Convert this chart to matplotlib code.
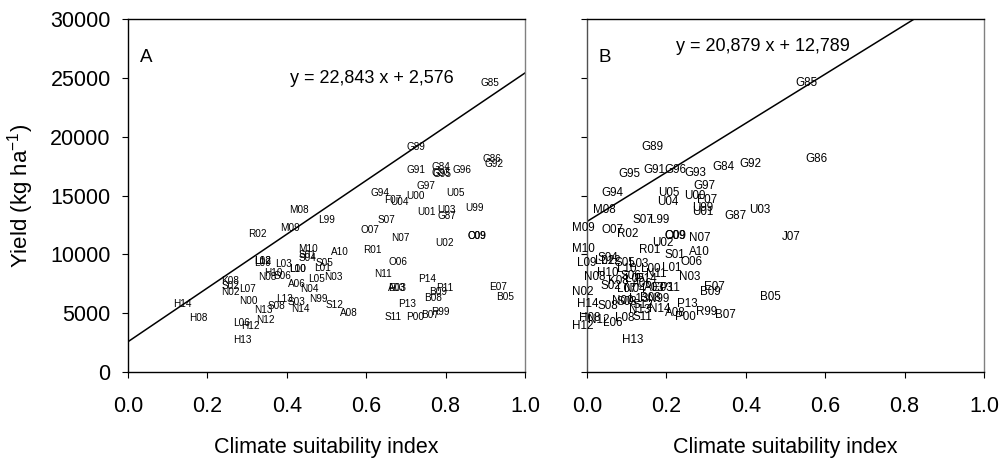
import numpy as np
import matplotlib
matplotlib.use('Agg')
import matplotlib.pyplot as plt

plt.rcParams['font.family'] = ['Liberation Sans', 'DejaVu Sans']
plt.rcParams['mathtext.fontset'] = 'custom'
plt.rcParams['mathtext.rm'] = 'Liberation Sans'
plt.rcParams['mathtext.default'] = 'regular'

# site codes, yield (kg/ha), climate suitability index in panel A and B
sites = ['G85', 'G89', 'G86', 'G92', 'G84', 'G91', 'G96', 'G93', 'G95', 'G97',
         'G94', 'U05', 'U00', 'F07', 'U04', 'U99', 'U03', 'U01', 'G87', 'M08',
         'L99', 'S07', 'M09', 'O07', 'R02', 'C09', 'O09', 'N07', 'J07', 'U02',
         'R01', 'A10', 'M10', 'S04', 'S01', 'O06', 'S05', 'L02', 'L12', 'L09',
         'L03', 'L01', 'L00', 'L10', 'H10', 'N08', 'S06', 'N11', 'L05', 'N03',
         'P14', 'A06', 'K08', 'S02', 'N02', 'L07', 'E07', 'A03', 'E03', 'P11',
         'B09', 'N04', 'B05', 'B08', 'N00', 'L13', 'N99', 'S03', 'P13', 'H14',
         'S12', 'S08', 'N14', 'N13', 'A08', 'R99', 'B07', 'S11', 'P00', 'H08',
         'L08', 'L06', 'H12', 'N12', 'H13']
yields = [24600, 19125, 18100, 17720, 17425, 17170, 17200, 16950, 16850, 15850,
          15210, 15250, 15000, 14660, 14450, 13980, 13770, 13600, 13300, 13730,
          12920, 12880, 12240, 12110, 11730, 11600, 11560, 11390, 11475, 10965,
          10410, 10200, 10450, 9730, 9945, 9310, 9265, 9435, 9435, 9265,
          9180, 8840, 8755, 8755, 8415, 8100, 8160, 8330, 7905, 8100,
          7905, 7480, 7735, 7310, 6800, 7055, 7225, 7140, 7140, 7140,
          6800, 7055, 6375, 6290, 6035, 6205, 6205, 5950, 5780, 5780,
          5695, 5610, 5355, 5270, 5015, 5100, 4845, 4675, 4675, 4590,
          4590, 4165, 3900, 4420, 2760]
csi_a = [0.912, 0.725, 0.917, 0.922, 0.788, 0.725, 0.841, 0.788, 0.790, 0.751,
         0.635, 0.824, 0.723, 0.668, 0.685, 0.872, 0.801, 0.751, 0.804, 0.431,
         0.499, 0.650, 0.408, 0.610, 0.327, 0.879, 0.879, 0.685, np.nan, 0.796,
         0.615, 0.534, 0.453, 0.451, 0.453, 0.680, 0.494, 0.338, 0.338, 0.338,
         0.393, 0.491, 0.428, 0.428, 0.365, 0.350, 0.388, 0.642, 0.476, 0.516,
         0.753, 0.425, 0.257, 0.257, 0.257, 0.302, 0.932, 0.678, 0.678, 0.798,
         0.781, 0.458, 0.950, 0.769, 0.302, 0.395, 0.479, 0.425, 0.703, 0.136,
         0.521, 0.375, 0.433, 0.340, 0.557, 0.786, 0.761, 0.667, 0.723, 0.176,
         np.nan, 0.287, 0.307, 0.345, 0.287]
csi_b = [0.554, 0.164, 0.577, 0.413, 0.345, 0.171, 0.222, 0.272, 0.106, 0.295,
         0.063, 0.207, 0.272, 0.302, 0.204, 0.292, 0.436, 0.292, 0.373, 0.043,
         0.184, 0.141, -0.010, 0.065, 0.103, 0.222, 0.222, 0.285, 0.514, 0.191,
         0.159, 0.282, -0.010, 0.053, 0.222, 0.264, 0.096, 0.045, 0.060, 0.000,
         0.130, 0.214, 0.160, 0.100, 0.053, 0.020, 0.110, 0.176, 0.120, 0.259,
         0.150, 0.140, 0.080, 0.060, -0.010, 0.100, 0.322, 0.170, 0.190, 0.210,
         0.310, 0.120, 0.463, 0.160, 0.090, 0.130, 0.180, 0.100, 0.254, 0.003,
         0.140, 0.053, 0.184, 0.134, 0.222, 0.302, 0.348, 0.141, 0.247, 0.008,
         0.096, 0.065, -0.010, 0.030, 0.116]

# linear fits
slope_a, icpt_a = 22843, 2576
slope_b, icpt_b = 20879, 12789

fig = plt.figure(figsize=(10.05, 4.65), dpi=100)
ax1 = fig.add_axes([0.1274, 0.2, 0.395, 0.759])
ax2 = fig.add_axes([0.584, 0.2, 0.395, 0.759])


def draw_panel(ax, csi, slope, icpt, letter, eq_xy, lab_size, show_ylabels):
    for name, xv, yv in zip(sites, csi, yields):
        if np.isnan(xv):
            continue
        ax.text(xv, yv, name, fontsize=lab_size, ha='center', va='center',
                clip_on=False)
    xx = np.array([0, 1])
    ax.plot(xx, slope * xx + icpt, color='black', lw=1.1)
    ax.set_xlim(0, 1)
    ax.set_ylim(0, 30000)
    ax.set_xticks(np.arange(0, 1.01, 0.2))
    ax.set_xticklabels(['0.0', '0.2', '0.4', '0.6', '0.8', '1.0'])
    ax.set_yticks(np.arange(0, 30001, 5000))
    ax.tick_params(axis='x', direction='out', length=4, pad=13, labelsize=15.5)
    ax.tick_params(axis='y', direction='out', length=4, pad=8.5, labelsize=15.5,
                   labelleft=show_ylabels)
    ax.set_xlabel('Climate suitability index', fontsize=15.5, labelpad=15)
    ax.text(0.03, 0.89, letter, transform=ax.transAxes, fontsize=13.5,
            ha='left', va='center')
    ax.text(eq_xy[0], eq_xy[1], f'y = {slope:,} x + {icpt:,}',
            transform=ax.transAxes, fontsize=13, ha='center', va='center')
    for s in ['left', 'bottom', 'top']:
        ax.spines[s].set_color('black')
    ax.spines['right'].set_color('#808080')
    for s in ax.spines.values():
        s.set_linewidth(1.0)


draw_panel(ax1, csi_a, slope_a, icpt_a, 'A', (0.615, 0.832), 7.2, True)
draw_panel(ax2, csi_b, slope_b, icpt_b, 'B', (0.443, 0.921), 8.4, False)
ax2.spines['left'].set_color('#505050')
ax1.set_ylabel('Yield (kg ha$^{-1}$)', fontsize=16, labelpad=10)

plt.savefig('out.png', dpi=100)
plt.close()
